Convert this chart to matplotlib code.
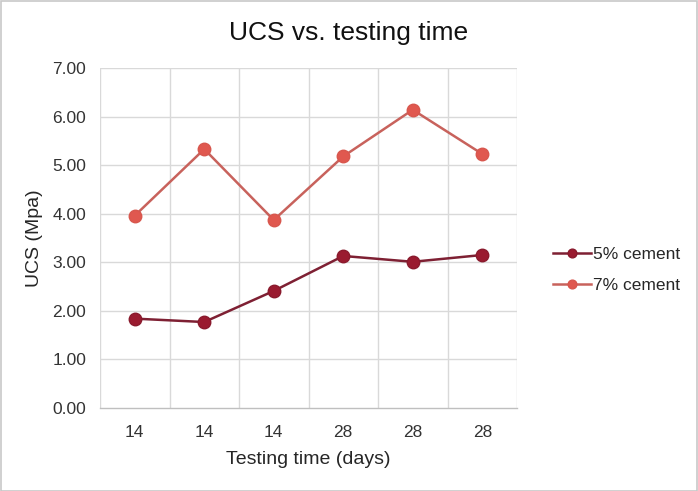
import matplotlib
matplotlib.use("Agg")
import matplotlib.pyplot as plt
from matplotlib.patches import Rectangle

categories = ["14", "14", "14", "28", "28", "28"]
cement_5 = [1.84, 1.77, 2.41, 3.13, 3.01, 3.15]
cement_7 = [3.96, 5.33, 3.87, 5.18, 6.14, 5.23]
y_ticks = [0, 1, 2, 3, 4, 5, 6, 7]

plt.rcParams['font.family'] = ['Liberation Sans', 'DejaVu Sans']

fig = plt.figure(figsize=(6.98, 4.91), dpi=100)
ax = fig.add_axes([100/698, 1-408/491, 417/698, 340/491])

x = list(range(len(categories)))
l5, = ax.plot(x, cement_5, color='#7E2033', lw=1.8, marker='o', ms=9,
              markerfacecolor='#9A1B30', markeredgecolor='#8A1A2D', label='5% cement', zorder=3)
l7, = ax.plot(x, cement_7, color='#C8625C', lw=1.8, marker='o', ms=9,
              markerfacecolor='#E0584F', markeredgecolor='#D8574E', label='7% cement', zorder=3)

ax.set_xlim(-0.5, len(categories)-0.5)
ax.set_ylim(0, 7)
ax.set_xticks(x)
ax.set_xticklabels(categories, fontsize=12.5, color='#333333')
ax.set_yticks(y_ticks)
ax.set_yticklabels([f"{v:.2f}" for v in y_ticks], fontsize=12.5, color='#333333')
ax.tick_params(axis='y', length=0, pad=10)
ax.tick_params(axis='x', length=0, pad=12)

for b in [i - 0.5 for i in range(len(categories)+1)]:
    ax.axvline(b, color='#D9D9D9', lw=1, zorder=0)
for v in y_ticks[1:]:
    ax.axhline(v, color='#D9D9D9', lw=1, zorder=0)

for s in ['top', 'right', 'left']:
    ax.spines[s].set_visible(False)
ax.spines['bottom'].set_color('#BFBFBF')
ax.spines['bottom'].set_linewidth(1)

ax.set_xlabel("Testing time (days)", fontsize=14, color='#262626', labelpad=8)
ax.set_ylabel("UCS (Mpa)", fontsize=14, color='#262626', labelpad=7)
fig.text(349/698, 1-33/491, "UCS vs. testing time", ha='center', va='center',
         fontsize=19, color='#111111')

leg = fig.legend(handles=[l5, l7], loc='center left', bbox_to_anchor=(537/698, 1-270/491),
                 frameon=False, fontsize=12.5, handlelength=2.2, handletextpad=0.15,
                 labelspacing=0.95, markerscale=0.7)
for t in leg.get_texts():
    t.set_color('#262626')

fig.patches.append(Rectangle((0.001, 0.001), 0.998, 0.997, transform=fig.transFigure,
                             fill=False, edgecolor='#C8C8C8', lw=1.2))

fig.savefig("out.png", dpi=100)
